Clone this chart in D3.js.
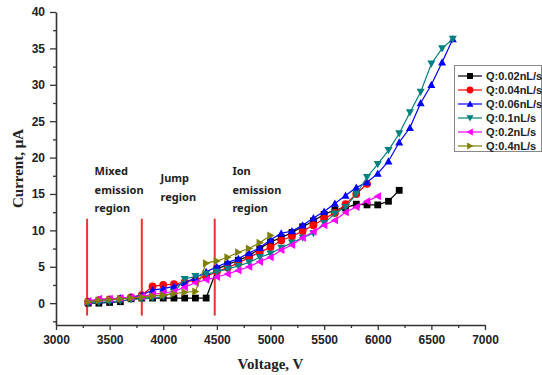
<!DOCTYPE html>
<html>
<head>
<meta charset="utf-8">
<script src="https://cdn.jsdelivr.net/npm/d3@7"></script>
<style>
  body { margin: 0; background: #fff; }
  svg { display: block; }
</style>
</head>
<body>
<svg id="chart" width="542" height="375"></svg>
<script>
// voltage steps (V)
var volts = [3300, 3400, 3500, 3600, 3700, 3800, 3900, 4000, 4100, 4200, 4300, 4400, 4500,
  4600, 4700, 4800, 4900, 5000, 5100, 5200, 5300, 5400, 5500, 5600, 5700, 5800, 5900,
  6000, 6100, 6200, 6300, 6400, 6500, 6600, 6700];

// current (uA) per flow rate
var q002 = [0.0, 0.0, 0.1, 0.2, 0.6, 0.7, 0.7, 0.7, 0.7, 0.7, 0.7, 0.7, 4.7, 5.3, 5.9, 6.5, 7.5, 8.4,
  9.0, 9.7, 10.5, 11.3, 12.2, 12.8, 13.1, 13.6, 13.5, 13.5, 14.0, 15.5];
var q004 = [0.2, 0.4, 0.5, 0.6, 0.8, 1.1, 2.3, 2.5, 2.6, 2.9, 3.2, 3.7, 4.3, 4.9, 5.5, 6.3, 7.0, 7.7,
  8.6, 9.2, 9.9, 10.7, 11.6, 12.4, 13.6, 15.0, 16.4];
var q006 = [0.2, 0.4, 0.5, 0.7, 0.8, 1.1, 1.8, 2.0, 2.3, 2.8, 3.5, 4.3, 5.0, 5.6, 6.1, 6.9, 7.6, 8.7,
  9.6, 9.9, 10.7, 11.7, 12.6, 13.7, 14.8, 15.9, 16.6, 17.8, 19.5, 22.1, 24.1, 27.5, 30.0, 33.1, 36.3];
var q01 = [0.0, 0.1, 0.2, 0.3, 0.5, 0.6, 0.7, 0.9, 1.5, 3.3, 3.7, 4.0, 4.3, 4.7, 5.1, 5.6, 6.3, 6.8,
  7.6, 8.3, 9.0, 9.6, 11.0, 12.3, 13.2, 15.0, 17.3, 19.1, 21.0, 23.3, 26.2, 29.0, 32.9, 35.0, 36.3];
var q02 = [0.3, 0.6, 0.6, 0.7, 0.8, 0.9, 1.2, 1.4, 1.6, 2.2, 2.8, 3.2, 3.6, 4.0, 4.5, 5.0, 5.7, 6.3,
  7.3, 8.0, 9.0, 9.8, 10.7, 11.4, 12.5, 13.2, 14.0, 14.7];
var q04 = [0.2, 0.4, 0.5, 0.6, 0.7, 0.8, 1.0, 1.1, 1.3, 1.5, 1.6, 5.5, 5.8, 6.3, 7.0, 7.5, 8.3, 9.3];

var seriesNames = ["Q:0.02nL/s", "Q:0.04nL/s", "Q:0.06nL/s", "Q:0.1nL/s", "Q:0.2nL/s", "Q:0.4nL/s"];
var seriesVals = [q002, q004, q006, q01, q02, q04];
var seriesColors = ["#000000", "#ff0000", "#0000ff", "#008080", "#ff00ff", "#808000"];
var seriesShapes = ["square", "circle", "up", "down", "left", "right"];

// region boundaries (V) and labels
var bounds = [3290, 3800, 4480];
var regions = [
  { v: 3360, lines: ["Mixed", "emission", "region"], top: 175 },
  { v: 3975, lines: ["Jump", "region"], top: 182 },
  { v: 4645, lines: ["Ion", "emission", "region"], top: 175 }
];

var xTicks = [3000, 3500, 4000, 4500, 5000, 5500, 6000, 6500, 7000];
var yTicks = [0, 5, 10, 15, 20, 25, 30, 35, 40];

var svg = d3.select("#chart");
var x = d3.scaleLinear().domain([3000, 7000]).range([56, 485]);
var y = d3.scaleLinear().domain([-3, 40]).range([325, 12]);

var axisColor = "#333";

// x axis
var gx = svg.append("g").attr("transform", "translate(0," + y(-3) + ")");
gx.call(d3.axisBottom(x).tickValues(xTicks).tickSize(5).tickSizeOuter(0).tickPadding(5).tickFormat(d3.format("d")));
gx.append("g").call(d3.axisBottom(x).tickValues(d3.range(3250, 7000, 500)).tickSize(3).tickSizeOuter(0).tickFormat(""))
  .select(".domain").remove();

// y axis
var gy = svg.append("g").attr("transform", "translate(" + x(3000) + ",0)");
gy.call(d3.axisLeft(y).tickValues(yTicks).tickSize(6).tickSizeOuter(0).tickPadding(5));
gy.append("g").call(d3.axisLeft(y).tickValues(d3.range(-2.5, 40, 5)).tickSize(3).tickSizeOuter(0).tickFormat(""))
  .select(".domain").remove();

svg.selectAll(".domain").attr("stroke", axisColor).attr("stroke-width", 1.6);
svg.selectAll(".tick line").attr("stroke", axisColor).attr("stroke-width", 1.3);
svg.selectAll(".tick text")
  .attr("fill", "#222")
  .style("font-family", "'Liberation Sans', Arial, sans-serif")
  .style("font-weight", "bold")
  .style("font-size", "12px");

// axis titles
svg.append("text")
  .attr("x", (x(3000) + x(7000)) / 2).attr("y", 369)
  .attr("text-anchor", "middle")
  .style("font-family", "'Liberation Serif', 'Times New Roman', serif")
  .style("font-weight", "bold").style("font-size", "15px")
  .attr("fill", "#222")
  .text("Voltage, V");
svg.append("text")
  .attr("transform", "translate(23," + y(18.5) + ") rotate(-90)")
  .attr("text-anchor", "middle")
  .style("font-family", "'Liberation Serif', 'Times New Roman', serif")
  .style("font-weight", "bold").style("font-size", "15px")
  .attr("fill", "#222")
  .text("Current, \u03bcA");

// region separators
svg.selectAll(".bound").data(bounds).enter().append("line")
  .attr("x1", function (d) { return x(d); }).attr("x2", function (d) { return x(d); })
  .attr("y1", y(11.6)).attr("y2", y(-1.7))
  .attr("stroke", "#e8342f").attr("stroke-width", 2);

// region labels
regions.forEach(function (r) {
  var t = svg.append("text")
    .attr("x", x(r.v)).attr("y", r.top)
    .style("font-family", "'Noto Sans', 'DejaVu Sans', sans-serif")
    .style("font-weight", "bold").style("font-size", "11px")
    .attr("fill", "#222");
  r.lines.forEach(function (l, i) {
    t.append("tspan").attr("x", x(r.v)).attr("y", r.top + i * 18.5).text(l);
  });
});

// marker shapes
function markerPath(shape, s) {
  var h = s / 2;
  if (shape === "square") return "M" + (-h * 0.85) + "," + (-h * 0.85) + "h" + (s * 0.85) + "v" + (s * 0.85) + "h" + (-s * 0.85) + "Z";
  if (shape === "circle") return d3.symbol(d3.symbolCircle, s * s * 0.75)();
  if (shape === "up") return "M0," + (-h) + "L" + h + "," + h * 0.8 + "L" + (-h) + "," + h * 0.8 + "Z";
  if (shape === "down") return "M0," + h + "L" + h + "," + (-h * 0.8) + "L" + (-h) + "," + (-h * 0.8) + "Z";
  if (shape === "left") return "M" + (-h) + ",0L" + h * 0.8 + "," + (-h) + "L" + h * 0.8 + "," + h + "Z";
  return "M" + h + ",0L" + (-h * 0.8) + "," + (-h) + "L" + (-h * 0.8) + "," + h + "Z";
}

var line = d3.line()
  .x(function (d) { return x(d.v); })
  .y(function (d) { return y(d.c); });

seriesVals.forEach(function (vals, i) {
  var pts = vals.map(function (c, j) { return { v: volts[j], c: c }; });
  var g = svg.append("g");
  g.append("path").datum(pts)
    .attr("d", line)
    .attr("fill", "none")
    .attr("stroke", seriesColors[i])
    .attr("stroke-width", 1.2);
  g.selectAll("path.m").data(pts).enter().append("path")
    .attr("class", "m")
    .attr("transform", function (d) { return "translate(" + x(d.v) + "," + y(d.c) + ")"; })
    .attr("d", markerPath(seriesShapes[i], 8))
    .attr("fill", seriesColors[i]);
});

// legend
var lg = svg.append("g");
lg.append("rect")
  .attr("x", 454.5).attr("y", 65.5).attr("width", 87).attr("height", 86)
  .attr("fill", "#fff").attr("stroke", "#888").attr("stroke-width", 1);
seriesNames.forEach(function (name, i) {
  var ly = 76 + i * 14;
  lg.append("line").attr("x1", 458).attr("x2", 482).attr("y1", ly).attr("y2", ly)
    .attr("stroke", seriesColors[i]).attr("stroke-width", 1.2);
  lg.append("path").attr("transform", "translate(470," + ly + ")")
    .attr("d", markerPath(seriesShapes[i], 7)).attr("fill", seriesColors[i]);
  lg.append("text").attr("x", 486).attr("y", ly + 4)
    .style("font-family", "'Liberation Sans', Arial, sans-serif")
    .style("font-weight", "bold").style("font-size", "11px")
    .attr("fill", "#222")
    .text(name);
});
</script>
</body>
</html>
